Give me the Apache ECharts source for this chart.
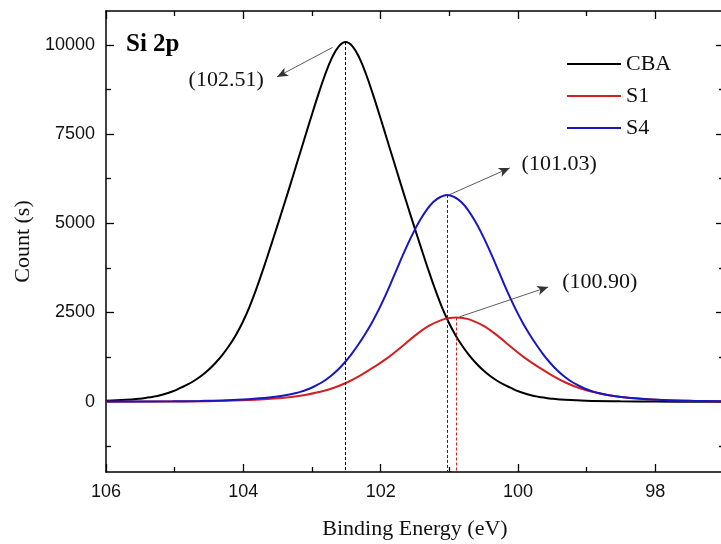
<!DOCTYPE html>
<html><head><meta charset="utf-8">
<script src="https://cdn.jsdelivr.net/npm/echarts@6/dist/echarts.min.js"></script>
<style>html,body{margin:0;padding:0;background:#fff}#c{width:721px;height:544px}</style>
</head><body><div id="c"></div>
<script>
// ---- data ----
const seriesNames = ['CBA', 'S1', 'S4'];

const cbaEnergy = [106, 105.71, 105.51, 105.41, 105.31, 105.21, 105.11, 105.01, 104.91, 104.81, 104.71, 104.61, 104.51, 104.41, 104.31, 104.21, 104.11, 104.01, 103.91, 103.81, 103.71, 103.61, 103.51, 103.41, 103.31, 103.21, 103.11, 103.01, 102.91, 102.81, 102.71, 102.61, 102.51,
  102.41, 102.31, 102.21, 102.11, 102.01, 101.91, 101.81, 101.71, 101.61, 101.51, 101.41, 101.31, 101.21, 101.11, 101.01, 100.91, 100.81, 100.71, 100.61, 100.51, 100.41, 100.31, 100.21, 100.11, 100.01, 99.91, 99.81, 99.71, 99.61, 99.51, 99.31, 99.01, 98.51, 98.01, 97];
const cbaCount = [25, 52, 86, 111, 141, 181, 237, 302, 393, 484, 595, 726, 887, 1079, 1300, 1562, 1865, 2228, 2661, 3165, 3720, 4304, 4899, 5504, 6119, 6744, 7368, 7993, 8598, 9163, 9636, 9959, 10080,
  9959, 9636, 9163, 8598, 7993, 7368, 6744, 6119, 5504, 4899, 4304, 3720, 3165, 2661, 2228, 1865, 1562, 1300, 1079, 887, 726, 595, 484, 393, 302, 237, 181, 141, 111, 86, 52, 25, 10, 4, 0];

const s1Energy = [106, 104.9, 104.4, 103.9, 103.6, 103.3, 103.1, 102.9, 102.7, 102.5, 102.3, 102.1, 101.9, 101.7, 101.5, 101.3, 101.1, 101.0, 100.9, 100.8, 100.7, 100.5, 100.3, 100.1, 99.9, 99.7, 99.5, 99.3, 99.1, 98.9, 98.7, 98.5, 98.2, 97.9, 97.4, 97];
const s1Count = [2, 9, 21, 50, 83, 135, 189, 271, 378, 531, 732, 968, 1227, 1534, 1853, 2124, 2301, 2345, 2360, 2345, 2301, 2124, 1853, 1534, 1227, 968, 732, 531, 378, 271, 189, 135, 83, 50, 21, 10];

const s4Energy = [106, 105.03, 104.63, 104.23, 103.93, 103.63, 103.43, 103.23, 103.13, 103.03, 102.93, 102.83, 102.73, 102.63, 102.53, 102.43, 102.33, 102.23, 102.13, 102.03, 101.93, 101.83, 101.73, 101.63, 101.53, 101.43, 101.33, 101.23, 101.13, 101.03,
  100.93, 100.83, 100.73, 100.63, 100.53, 100.43, 100.33, 100.23, 100.13, 100.03, 99.93, 99.83, 99.73, 99.63, 99.53, 99.43, 99.33, 99.23, 99.13, 99.03, 98.93, 98.83, 98.63, 98.43, 98.13, 97.83, 97.43, 97];
const s4Count = [3, 12, 23, 41, 70, 116, 168, 243, 301, 371, 464, 574, 713, 881, 1084, 1321, 1588, 1883, 2208, 2573, 2979, 3419, 3871, 4311, 4717, 5076, 5378, 5604, 5737, 5795,
  5737, 5604, 5378, 5076, 4717, 4311, 3871, 3419, 2979, 2573, 2208, 1883, 1588, 1321, 1084, 881, 713, 574, 464, 371, 301, 243, 168, 116, 70, 41, 23, 12];

const peakCenters = [102.51, 100.90, 101.03];

const xTickLabels = [106, 104, 102, 100, 98];
const xMinorTicks = [105, 103, 101, 99];
const yTickLabels = [0, 2500, 5000, 7500, 10000];
const yMinorTicks = [-1250, 1250, 3750, 6250, 8750];

// ---- chart ----
const sans = 'Liberation Sans, Arial, sans-serif';
const serif = 'Liberation Serif, Times New Roman, serif';
const colors = ['#000000', '#d42020', '#1717c2'];
const energies = [cbaEnergy, s1Energy, s4Energy];
const counts = [cbaCount, s1Count, s4Count];
const peakHeights = counts.map(c => Math.max.apply(null, c));
const xMin = 97, xMax = 106, yMin = -1970, yMax = 10950;

// annotation layout (arrow start, arrow tip, label centre) in data coordinates
const arrowStarts = [[102.70, 9930], [100.85, 2380], [101.00, 5800]];
const arrowTips = [[103.51, 9103], [99.56, 3216], [100.12, 6552]];
const labelSpots = [[104.25, 9019], [98.81, 3356], [99.40, 6663]];

const tickStyle = {color: '#000', width: 1.3};
const lineStyleAxis = {color: '#000', width: 1.5};

function xAx(pos, ticks, len, withLine, withLabel) {
  const a = {
    type: 'value', position: pos, min: xMin, max: xMax, inverse: true, offset: 0,
    axisLine: {show: withLine, onZero: false, lineStyle: lineStyleAxis},
    axisTick: {show: true, inside: true, length: len, customValues: ticks, lineStyle: tickStyle},
    axisLabel: {show: withLabel, customValues: ticks, margin: 11, fontFamily: sans, fontSize: 18, color: '#111',
      formatter: v => String(v)},
    splitLine: {show: false}
  };
  if (withLabel) {
    a.name = 'Binding Energy (eV)';
    a.nameLocation = 'middle';
    a.nameGap = 46;
    a.nameTextStyle = {fontFamily: serif, fontSize: 22, color: '#111'};
  }
  return a;
}
function yAx(pos, ticks, len, withLine, withLabel) {
  const a = {
    type: 'value', position: pos, min: yMin, max: yMax, offset: 0,
    axisLine: {show: withLine, onZero: false, lineStyle: lineStyleAxis},
    axisTick: {show: true, inside: true, length: len, customValues: ticks, lineStyle: tickStyle},
    axisLabel: {show: withLabel, customValues: ticks, margin: 11, fontFamily: sans, fontSize: 18, color: '#111',
      formatter: v => String(v)},
    splitLine: {show: false}
  };
  if (withLabel) {
    a.name = 'Count (s)';
    a.nameLocation = 'middle';
    a.nameGap = 72;
    a.nameTextStyle = {fontFamily: serif, fontSize: 22, color: '#111'};
  }
  return a;
}

const series = seriesNames.map((name, i) => ({
  name: name,
  type: 'line',
  xAxisIndex: 0, yAxisIndex: 0,
  data: energies[i].map((e, k) => [e, counts[i][k]]),
  showSymbol: false, symbol: 'none',
  smooth: 0.4,
  lineStyle: {color: colors[i], width: 2},
  itemStyle: {color: colors[i]},
  animation: false,
  markLine: {
    silent: true, animation: false, label: {show: false}, symbol: ['none', 'none'],
    data: [
      [
        {coord: [peakCenters[i], peakHeights[i]], symbol: 'none', lineStyle: {color: colors[i], type: [3, 2], width: 1}},
        {coord: [peakCenters[i], yMin], symbol: 'none', lineStyle: {color: colors[i], type: [3, 2], width: 1}}
      ],
      [
        {coord: arrowStarts[i], symbol: 'none', lineStyle: {color: '#333', type: 'solid', width: 0.8}},
        {coord: arrowTips[i], symbol: 'arrow', symbolSize: [7, 11], lineStyle: {color: '#333', type: 'solid', width: 0.8}}
      ]
    ]
  },
  markPoint: {
    silent: true, animation: false, symbol: 'circle', symbolSize: 0,
    data: [{
      coord: labelSpots[i],
      label: {show: true, position: 'inside', formatter: '(' + peakCenters[i].toFixed(2) + ')',
        color: '#111', fontFamily: serif, fontSize: 22}
    }]
  }
}));

const chart = echarts.init(document.getElementById('c'), null, {renderer: 'canvas'});
chart.setOption({
  backgroundColor: '#fff',
  animation: false,
  title: {text: 'Si 2p', left: 126, top: 32, padding: 0,
    textStyle: {fontFamily: serif, fontWeight: 'bold', fontSize: 25, color: '#000'}},
  legend: {
    data: seriesNames, orient: 'vertical', left: 567, top: 53, padding: 0,
    itemWidth: 54, itemHeight: 2, itemGap: 10, icon: 'rect',
    textStyle: {fontFamily: serif, fontSize: 22, color: '#111', lineHeight: 20}
  },
  grid: {left: 106, top: 11, right: -3, bottom: 72, containLabel: false, outerBoundsMode: 'none'},
  xAxis: [
    xAx('bottom', xTickLabels, 8, true, true),
    xAx('bottom', xMinorTicks, 5, false, false),
    xAx('top', xTickLabels, 8, true, false),
    xAx('top', xMinorTicks, 5, false, false)
  ],
  yAxis: [
    yAx('left', yTickLabels, 8, true, true),
    yAx('left', yMinorTicks, 5, false, false),
    yAx('right', yTickLabels, 8, true, false),
    yAx('right', yMinorTicks, 5, false, false)
  ],
  series: series
});
</script>
</body></html>
